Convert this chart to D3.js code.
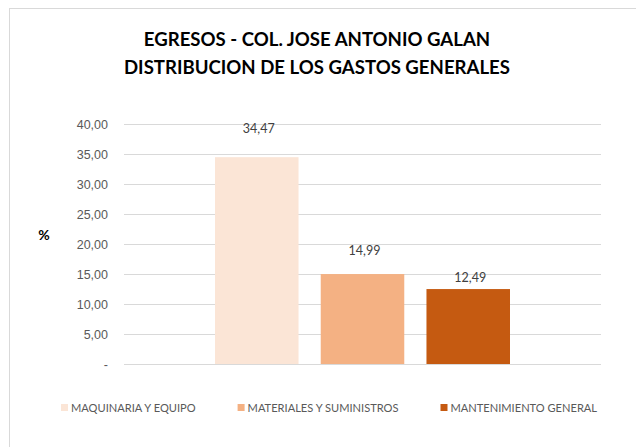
<!DOCTYPE html>
<html>
<head>
<meta charset="utf-8">
<script src="https://cdn.jsdelivr.net/npm/d3@7"></script>
<style>
  html, body { margin: 0; padding: 0; background: #fff; }
  svg { display: block; font-family: Lato, "Open Sans", sans-serif; }
  .grid line { stroke: #d9d9d9; }
  .grid path { display: none; }
  .ytick text { fill: #595959; font-size: 12.5px; }
  .lbl { fill: #404040; font-size: 12.5px; }
  .leg text { fill: #595959; font-size: 11.1px; }
</style>
</head>
<body>
<svg id="chart" width="636" height="447"></svg>
<script>
// Egresos - Col. Jose Antonio Galan: one category, three spending series.
const titleLines = ["EGRESOS - COL. JOSE ANTONIO GALAN", "DISTRIBUCION DE LOS GASTOS GENERALES"];
const series = ["MAQUINARIA Y EQUIPO", "MATERIALES Y SUMINISTROS", "MANTENIMIENTO GENERAL"];
const values = [34.47, 14.99, 12.49];
const colors = ["#fbe5d6", "#f4b183", "#c55a11"];
const yTicks = [0, 5, 10, 15, 20, 25, 30, 35, 40];
const yLabel = "%";

const fmt = (v) => v === 0 ? "-" : d3.format(".2f")(v).replace(".", ",");

const W = 636, H = 447;
const plot = { left: 124, right: 601, top: 124, bottom: 364 };
// labels in the source sit at hand-placed heights above each bar
const labelLift = [29, 23, 11];

const svg = d3.select("#chart");

// chart frame (only top/left edges fall inside the picture)
svg.append("rect")
  .attr("x", 9.5).attr("y", 8.5).attr("width", W + 20).attr("height", H + 20)
  .attr("fill", "#fff").attr("stroke", "#d9d9d9");

// title
svg.append("g").selectAll("text")
  .data(titleLines).join("text")
  .attr("x", 317).attr("y", (d, i) => 45.5 + i * 28)
  .attr("text-anchor", "middle")
  .attr("font-size", 18.6).attr("font-weight", 700).attr("fill", "#000")
  .text((d) => d);

const y = d3.scaleLinear().domain([0, 40]).range([plot.bottom, plot.top]);
const x0 = d3.scaleBand().domain(["all"]).range([plot.left, plot.right])
  .paddingInner(0).paddingOuter(0.3085);
const x1 = d3.scaleBand().domain(series).range([0, x0.bandwidth()])
  .paddingInner(0.21).paddingOuter(0);

// gridlines
svg.append("g").attr("class", "grid")
  .attr("transform", `translate(${plot.left},0)`)
  .call(d3.axisLeft(y).tickValues(yTicks).tickSize(-(plot.right - plot.left)).tickFormat(""));

// y tick labels
svg.append("g").attr("class", "ytick")
  .attr("transform", `translate(${plot.left},0)`)
  .call(d3.axisLeft(y).tickValues(yTicks).tickSize(0).tickPadding(16).tickFormat(fmt))
  .call((g) => g.select(".domain").remove());

svg.append("text")
  .attr("x", 44).attr("y", 240).attr("text-anchor", "middle")
  .attr("font-size", 14).attr("font-weight", 700).attr("fill", "#000")
  .text(yLabel);

// bars
const gx = x0("all");
svg.append("g").selectAll("rect")
  .data(series).join("rect")
  .attr("x", (d) => gx + x1(d)).attr("width", x1.bandwidth())
  .attr("y", (d, i) => y(values[i])).attr("height", (d, i) => y(0) - y(values[i]))
  .attr("fill", (d, i) => colors[i]);

// value labels
svg.append("g").selectAll("text")
  .data(series).join("text")
  .attr("class", "lbl")
  .attr("x", (d) => gx + x1(d) + x1.bandwidth() / 2 + 2)
  .attr("y", (d, i) => y(values[i]) - labelLift[i])
  .attr("dy", "0.35em").attr("text-anchor", "middle")
  .text((d, i) => fmt(values[i]));

// legend
const leg = svg.append("g").attr("class", "leg");
let lx = 61;
series.forEach((s, i) => {
  const g = leg.append("g").attr("transform", `translate(${lx},408)`);
  g.append("rect").attr("x", 0).attr("y", -4).attr("width", 7).attr("height", 7).attr("fill", colors[i]);
  const t = g.append("text").attr("x", 10).attr("dy", "0.35em").text(s);
  lx += 10 + t.node().getComputedTextLength() + 42;
});
</script>
</body>
</html>
